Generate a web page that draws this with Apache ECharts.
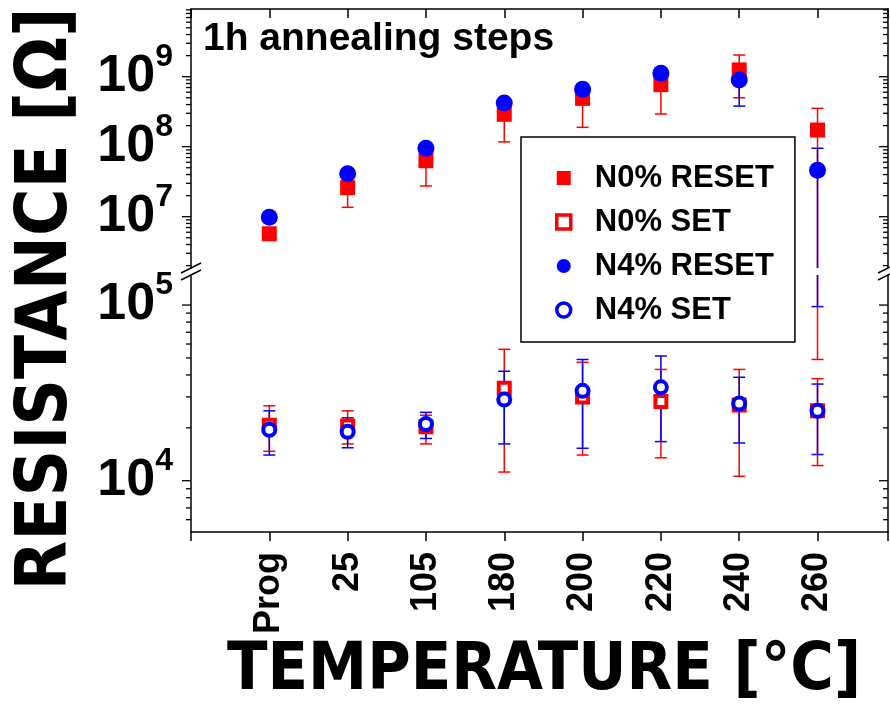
<!DOCTYPE html>
<html>
<head>
<meta charset="utf-8">
<script src="https://cdn.jsdelivr.net/npm/echarts@6/dist/echarts.min.js"></script>
<style>
  html, body { margin: 0; padding: 0; background: #fff; }
  #chart { width: 890px; height: 705px; }
</style>
</head>
<body>
<div id="chart"></div>
<script>
// categories (annealing temperature)
const temps = ['Prog', '25', '105', '180', '200', '220', '240', '260']

// N0% RESET - filled red squares
const n0Reset   = [5.7e6, 2.6e7, 6.3e7, 2.9e8, 4.9e8, 7.7e8, 1.25e9, 1.73e8]
const n0ResetLo = [5.7e6, 1.36e7, 2.75e7, 1.17e8, 1.89e8, 2.93e8, 5.0e8, 4.9e4]
const n0ResetHi = [5.7e6, 2.6e7, 6.3e7, 2.9e8, 4.9e8, 7.7e8, 2.04e9, 3.53e8]

// N0% SET - open red squares
const n0Set   = [2.07e4, 2.05e4, 2.03e4, 3.36e4, 3.0e4, 2.82e4, 2.7e4, 2.5e4]
const n0SetLo = [1.47e4, 1.62e4, 1.62e4, 1.12e4, 1.4e4, 1.35e4, 1.06e4, 1.22e4]
const n0SetHi = [2.67e4, 2.5e4, 2.36e4, 5.6e4, 4.72e4, 4.3e4, 4.3e4, 3.81e4]

// N4% RESET - filled blue circles
const n4Reset   = [9.8e6, 4.1e7, 9.5e7, 4.2e8, 6.6e8, 1.12e9, 9.0e8, 4.6e7]
const n4ResetLo = [9.8e6, 4.1e7, 9.5e7, 4.2e8, 6.6e8, 1.12e9, 3.8e8, 9.8e4]
const n4ResetHi = [9.8e6, 4.1e7, 9.5e7, 4.2e8, 6.6e8, 1.12e9, 1.42e9, 9.5e7]

// N4% SET - open blue circles
const n4Set   = [1.95e4, 1.9e4, 2.1e4, 2.9e4, 3.25e4, 3.4e4, 2.75e4, 2.5e4]
const n4SetLo = [1.4e4, 1.54e4, 1.74e4, 1.62e4, 1.53e4, 1.67e4, 1.64e4, 1.41e4]
const n4SetHi = [2.5e4, 2.28e4, 2.45e4, 4.2e4, 4.9e4, 5.13e4, 3.88e4, 3.55e4]

// log axis decades (tick labels 10^n) and minor mantissas
const upperDecades = [6, 7, 8, 9]
const lowerDecades = [3, 4, 5]
const mantissas = [1, 2, 3, 4, 5, 6, 7, 8, 9]

const red = '#ff0000'
const blue = '#0000ff'
const black = '#000'
const labelFont = 'Liberation Sans, Arial, sans-serif'
const narrowFont = '"Liberation Sans Narrow", "DejaVu Sans Condensed", Arial, sans-serif'

// axis break ranges
const upperMin = 1.849e6, upperMax = 9.27e9
const lowerMin = 5105, lowerMax = 1.483e5

const rows = (vals, lo, hi) => vals.map((v, i) => [i, v, lo[i], hi[i]])

const tickRows = (decades) => {
  const out = []
  decades.forEach(d => mantissas.forEach(m => out.push([-1, m * Math.pow(10, d), m === 1 ? 1 : 0])))
  return out
}

// error bars, clamped to the grid so they run through the axis break
const errRender = (color) => (params, api) => {
  const cs = params.coordSys
  const top = cs.y, bot = cs.y + cs.height
  const i = api.value(0)
  const p = api.coord([i, api.value(1)])
  const yLo = api.coord([i, api.value(2)])[1]
  const yHi = api.coord([i, api.value(3)])[1]
  if (yLo < top || yHi > bot) return
  const y1 = Math.max(yHi, top), y2 = Math.min(yLo, bot)
  const x = p[0], cap = 6
  const children = []
  const st = { stroke: color, lineWidth: 1.5 }
  if (y2 - y1 > 0.5) children.push({ type: 'line', shape: { x1: x, y1: y1, x2: x, y2: y2 }, style: st })
  if (api.value(2) < api.value(1) && yLo >= top && yLo <= bot)
    children.push({ type: 'line', shape: { x1: x - cap, y1: yLo, x2: x + cap, y2: yLo }, style: st })
  if (api.value(3) > api.value(1) && yHi >= top && yHi <= bot)
    children.push({ type: 'line', shape: { x1: x - cap, y1: yHi, x2: x + cap, y2: yHi }, style: st })
  return { type: 'group', children }
}

// log minor / major ticks on left (outward) and right (inward) axes
const tickRender = (params, api) => {
  const cs = params.coordSys
  const y = api.coord([-1, api.value(1)])[1]
  if (y < cs.y - 0.5 || y > cs.y + cs.height + 0.5) return
  const len = api.value(2) ? 9 : 5
  const L = cs.x, R = cs.x + cs.width
  const st = { stroke: black, lineWidth: 1.3 }
  return {
    type: 'group',
    children: [
      { type: 'line', shape: { x1: L - len, y1: y, x2: L, y2: y }, style: st },
      { type: 'line', shape: { x1: R - len, y1: y, x2: R, y2: y }, style: st },
    ],
  }
}

const powLabel = (v) => {
  const l = Math.log10(v)
  const e = Math.round(l)
  if (Math.abs(l - e) > 1e-6) return ''
  return '{b|10}{s|' + e + '}'
}

const yLabel = {
  margin: 18,
  formatter: powLabel,
  rich: {
    b: { fontSize: 52, fontWeight: 'bold', fontFamily: labelFont, color: black, lineHeight: 72 },
    s: { fontSize: 32, fontWeight: 'bold', fontFamily: labelFont, color: black, lineHeight: 32, verticalAlign: 'top' },
  },
}

const axisLine = { show: true, onZero: false, lineStyle: { color: black, width: 1.5 } }

const chart = echarts.init(document.getElementById('chart'))
chart.setOption({
  animation: false,
  backgroundColor: '#fff',
  title: {
    text: '1h annealing steps',
    left: 198, top: 15,
    textStyle: { fontSize: 39, fontWeight: 'bold', fontFamily: labelFont, color: black },
  },
  legend: {
    orient: 'vertical',
    left: 521, top: 137,
    padding: [24, 21, 15, 34],
    itemGap: 10,
    itemWidth: 14, itemHeight: 14,
    borderColor: black, borderWidth: 1.5,
    selectedMode: false,
    formatter: name => '{g| }' + name,
    textStyle: {
      fontSize: 31, fontWeight: 'bold', fontFamily: labelFont, color: black, lineHeight: 34,
      rich: { g: { width: 19 } },
    },
    data: [
      { name: 'N0% RESET', icon: 'rect', itemStyle: { color: red } },
      { name: 'N0% SET', icon: 'rect', itemStyle: { color: '#fff', borderColor: red, borderWidth: 3.5 } },
      { name: 'N4% RESET', icon: 'circle', itemStyle: { color: blue } },
      { name: 'N4% SET', icon: 'circle', itemStyle: { color: '#fff', borderColor: blue, borderWidth: 3.5 } },
    ],
  },
  grid: [
    { left: 191, right: 2, top: 9, height: 259 },
    { left: 191, right: 2, top: 275, height: 257 },
  ],
  xAxis: [
    {
      gridIndex: 0, type: 'value', position: 'top', min: -1, max: 7.9, interval: 1,
      axisLine, axisTick: { show: true, inside: true, length: 9, lineStyle: { color: black, width: 1.5 } },
      axisLabel: { show: false }, splitLine: { show: false },
    },
    {
      gridIndex: 1, type: 'value', position: 'bottom', min: -1, max: 7.9, interval: 1,
      axisLine, axisTick: { show: true, inside: false, length: 9, lineStyle: { color: black, width: 1.5 } },
      axisLabel: {
        rotate: 90, margin: 20, fontSize: 36, fontWeight: 'bold', fontFamily: labelFont, color: black,
        formatter: v => {
          const k = Math.round(v)
          return Math.abs(v - k) < 1e-6 && temps[k] !== undefined ? temps[k] : ''
        },
      },
      splitLine: { show: false },
    },
  ],
  yAxis: [
    {
      gridIndex: 0, type: 'log', min: upperMin, max: upperMax, position: 'left',
      axisLine, axisTick: { show: false }, axisLabel: yLabel, splitLine: { show: false }, minorTick: { show: false },
    },
    {
      gridIndex: 1, type: 'log', min: lowerMin, max: lowerMax, position: 'left',
      axisLine, axisTick: { show: false }, axisLabel: yLabel, splitLine: { show: false }, minorTick: { show: false },
    },
    {
      gridIndex: 0, type: 'log', min: upperMin, max: upperMax, position: 'right',
      axisLine, axisTick: { show: false }, axisLabel: { show: false }, splitLine: { show: false },
    },
    {
      gridIndex: 1, type: 'log', min: lowerMin, max: lowerMax, position: 'right',
      axisLine, axisTick: { show: false }, axisLabel: { show: false }, splitLine: { show: false },
    },
  ],
  series: [
    // ticks
    { type: 'custom', name: 'ticks-up', xAxisIndex: 0, yAxisIndex: 0, silent: true,
      renderItem: tickRender, encode: { x: 0, y: 1 }, data: tickRows(upperDecades) },
    { type: 'custom', name: 'ticks-low', xAxisIndex: 1, yAxisIndex: 1, silent: true,
      renderItem: tickRender, encode: { x: 0, y: 1 }, data: tickRows(lowerDecades) },

    // upper panel: RESET states
    { type: 'custom', name: 'N0% RESET err', xAxisIndex: 0, yAxisIndex: 0,
      renderItem: errRender(red), encode: { x: 0, y: 1 }, data: rows(n0Reset, n0ResetLo, n0ResetHi) },
    { type: 'scatter', name: 'N0% RESET', xAxisIndex: 0, yAxisIndex: 0,
      symbol: 'rect', symbolSize: 15, itemStyle: { color: red, opacity: 1 },
      data: n0Reset.map((v, i) => [i, v]) },
    { type: 'custom', name: 'N4% RESET err', xAxisIndex: 0, yAxisIndex: 0,
      renderItem: errRender(blue), encode: { x: 0, y: 1 }, data: rows(n4Reset, n4ResetLo, n4ResetHi) },
    { type: 'scatter', name: 'N4% RESET', xAxisIndex: 0, yAxisIndex: 0,
      symbol: 'circle', symbolSize: 17, itemStyle: { color: blue, opacity: 1 },
      data: n4Reset.map((v, i) => [i, v]) },

    // lower panel: SET states (plus RESET bars running through the break)
    { type: 'custom', name: 'N0% RESET err2', xAxisIndex: 1, yAxisIndex: 1,
      renderItem: errRender(red), encode: { x: 0, y: 1 }, data: rows(n0Reset, n0ResetLo, n0ResetHi) },
    { type: 'custom', name: 'N0% SET err', xAxisIndex: 1, yAxisIndex: 1,
      renderItem: errRender(red), encode: { x: 0, y: 1 }, data: rows(n0Set, n0SetLo, n0SetHi) },
    { type: 'scatter', name: 'N0% SET', xAxisIndex: 1, yAxisIndex: 1,
      symbol: 'rect', symbolSize: 11, itemStyle: { color: '#fff', borderColor: red, borderWidth: 4, opacity: 1 },
      data: n0Set.map((v, i) => [i, v]) },
    { type: 'custom', name: 'N4% RESET err2', xAxisIndex: 1, yAxisIndex: 1,
      renderItem: errRender(blue), encode: { x: 0, y: 1 }, data: rows(n4Reset, n4ResetLo, n4ResetHi) },
    { type: 'custom', name: 'N4% SET err', xAxisIndex: 1, yAxisIndex: 1,
      renderItem: errRender(blue), encode: { x: 0, y: 1 }, data: rows(n4Set, n4SetLo, n4SetHi) },
    { type: 'scatter', name: 'N4% SET', xAxisIndex: 1, yAxisIndex: 1,
      symbol: 'circle', symbolSize: 12, itemStyle: { color: '#fff', borderColor: blue, borderWidth: 4, opacity: 1 },
      data: n4Set.map((v, i) => [i, v]) },
  ],
  graphic: [
    // axis break marks
    { type: 'line', shape: { x1: 181, y1: 273, x2: 201, y2: 263 }, style: { stroke: black, lineWidth: 1.5 } },
    { type: 'line', shape: { x1: 181, y1: 280, x2: 201, y2: 270 }, style: { stroke: black, lineWidth: 1.5 } },
    { type: 'line', shape: { x1: 878, y1: 273, x2: 898, y2: 263 }, style: { stroke: black, lineWidth: 1.5 } },
    { type: 'line', shape: { x1: 878, y1: 280, x2: 898, y2: 270 }, style: { stroke: black, lineWidth: 1.5 } },
    // axis titles
    {
      type: 'text', x: 47, y: 299, rotation: Math.PI / 2,
      style: { text: 'RESISTANCE [Ω]', fontSize: 72, fontWeight: 'bold', fontFamily: narrowFont,
        fill: black, align: 'center', verticalAlign: 'middle' },
    },
    {
      type: 'text', x: 544, y: 672,
      style: { text: 'TEMPERATURE [°C]', fontSize: 66, fontWeight: 'bold', fontFamily: narrowFont,
        fill: black, align: 'center', verticalAlign: 'middle' },
    },
  ],
})
</script>
</body>
</html>
